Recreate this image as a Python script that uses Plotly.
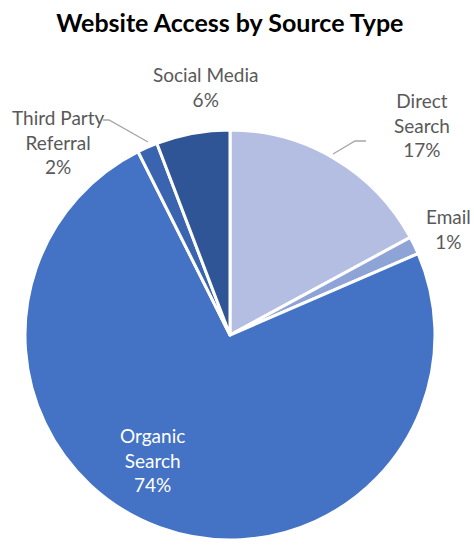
import plotly.graph_objects as go

# ---- data ----
categories = ["Direct Search", "Email", "Organic Search", "Third Party Referral", "Social Media"]
display_labels = ["Direct<br>Search", "Email", "Organic<br>Search", "Third Party<br>Referral", "Social Media"]
values = [17.1, 1.4, 74.1, 1.6, 5.8]
colors = ["#B4BEE2", "#8FA4D6", "#4472C4", "#3A64B0", "#2F5597"]

W, H = 474, 546
def px(x): return x / W
def py(y): return 1 - y / H

cx, cy, r = 230, 335, 205

fig = go.Figure(go.Pie(
    labels=categories, values=values, sort=False, direction="clockwise", rotation=0,
    marker=dict(colors=colors, line=dict(color="white", width=3)),
    textinfo="none", showlegend=False,
    domain=dict(x=[px(cx - r), px(cx + r)], y=[py(cy + r), py(cy - r)]),
))

total = sum(values)
pcts = [round(v / total * 100) for v in values]

# label anchor positions (layout)
label_pos = [(422, 125), (448, 229), (152, 460), (58, 142), (205, 87)]
label_col = ["#595959", "#595959", "white", "#595959", "#595959"]
for lab, p, (x, y), c in zip(display_labels, pcts, label_pos, label_col):
    fig.add_annotation(x=px(x), y=py(y), xref="paper", yref="paper",
                       text=f"{lab}<br>{p}%", showarrow=False,
                       xanchor="center", yanchor="middle", align="center",
                       font=dict(family="Lato", size=19, color=c))

# leader lines
leaders = [[(103, 120), (109, 120), (148, 142)], [(366, 141), (355, 141), (333, 154)]]
for pts in leaders:
    path = "M " + " L ".join(f"{px(x)},{py(y)}" for x, y in pts)
    fig.add_shape(type="path", path=path, xref="paper", yref="paper",
                  line=dict(color="#A6A6A6", width=1.3))

fig.update_layout(
    width=W, height=H, margin=dict(l=0, r=0, t=0, b=0),
    paper_bgcolor="white", plot_bgcolor="white",
    title=dict(text="<b>Website Access by Source Type</b>", x=0.485, xanchor="center",
               y=py(23), yanchor="middle",
               font=dict(family="Lato", size=25, color="black")),
)

fig.write_html("out.html")
